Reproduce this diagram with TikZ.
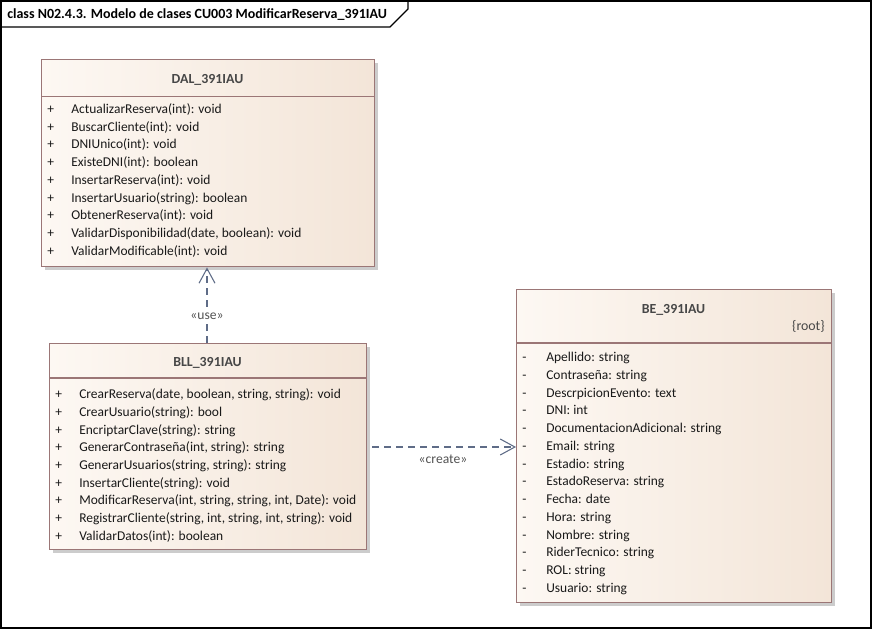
\documentclass[tikz,border=0pt]{standalone}
\usepackage{fontspec}
\setmainfont{Carlito}
\usetikzlibrary{arrows.meta}
\definecolor{bord}{RGB}{155,118,118}
\definecolor{fillL}{RGB}{253,248,243}
\definecolor{fillR}{RGB}{243,229,216}
\definecolor{conn}{RGB}{95,108,135}
\definecolor{txt}{RGB}{25,25,25}
\tikzset{
  umlbox/.style={draw=bord, line width=1.1pt, left color=fillL, right color=fillR, shading angle=90, inner sep=0pt},
  shadowbox/.style={fill=black!20, draw=none, inner sep=0pt},
  sepline/.style={draw=bord, line width=0.9pt},
  member/.style={anchor=base west, inner sep=0pt, font=\fontsize{10.1pt}{12pt}\selectfont, text=txt},
  cname/.style={anchor=base, inner sep=0pt, font=\bfseries\fontsize{10.4pt}{12pt}\selectfont, text=txt!80},
  conline/.style={draw=conn, line width=0.8pt, dash pattern=on 5.5pt off 3.5pt},
  openarrow/.style={-{Straight Barb[length=11pt, width=12pt, line width=0.8pt]}},
  clabel/.style={inner sep=0pt, font=\fontsize{10.2pt}{12pt}\selectfont, text=txt!75},
}
\begin{document}
\begin{tikzpicture}[x=0.75pt,y=-0.75pt]
\useasboundingbox (0,0) rectangle (873,630);
% frame
\draw[line width=0.8pt] (1,1) rectangle (871,628);
\draw[line width=0.8pt] (1,27) coordinate (tabA) -- (390,27) -- (408,9) -- (408,1);
\node[anchor=base west, inner sep=0pt, font=\bfseries\fontsize{10.5pt}{12pt}\selectfont] (title) at (7,19) {class N02.4.3. Modelo de clases CU003 ModificarReserva\_391IAU};

% ---------- DAL ----------
\fill[shadowbox] (45,63) rectangle (378,270);
\node[umlbox, minimum width=333*0.75pt, minimum height=207*0.75pt, anchor=north west] (dal) at (41,59) {};
\draw[sepline] (41,96.5) -- (374,96.5);
\node[cname] (daln) at (207.5,84) {DAL\_391IAU};
\foreach \y/\t [count=\i] in {
  114/ActualizarReserva(int): void,
  132/BuscarCliente(int): void,
  149/DNIUnico(int): void,
  167/ExisteDNI(int): boolean,
  185/InsertarReserva(int): void,
  203/InsertarUsuario(string): boolean,
  220/ObtenerReserva(int): void,
  238/{ValidarDisponibilidad(date, boolean): void},
  256/ValidarModificable(int): void}{
  \node[member] (dalp\i) at (47,\y) {+};
  \node[member] (dalm\i) at (71,\y) {\t};
}

% ---------- BLL ----------
\fill[shadowbox] (53,347) rectangle (370,553);
\node[umlbox, minimum width=317*0.75pt, minimum height=206*0.75pt, anchor=north west] (bll) at (49,343) {};
\draw[sepline] (49,378) -- (366,378);
\node[cname] (blln) at (207.5,367) {BLL\_391IAU};
\foreach \y/\t [count=\i] in {
  398/{CrearReserva(date, boolean, string, string): void},
  416/CrearUsuario(string): bool,
  434/EncriptarClave(string): string,
  451/{GenerarContraseña(int, string): string},
  469/{GenerarUsuarios(string, string): string},
  487/InsertarCliente(string): void,
  504/{ModificarReserva(int, string, string, int, Date): void},
  522/{RegistrarCliente(string, int, string, int, string): void},
  540/ValidarDatos(int): boolean}{
  \node[member] (bllp\i) at (55,\y) {+};
  \node[member] (bllm\i) at (79,\y) {\t};
}

% ---------- BE ----------
\fill[shadowbox] (520,293) rectangle (835,606);
\node[umlbox, minimum width=315*0.75pt, minimum height=313*0.75pt, anchor=north west] (be) at (516,289) {};
\draw[sepline] (516,343) -- (831,343);
\node[cname] (ben) at (673.5,314) {BE\_391IAU};
\node[anchor=base east, inner sep=0pt, font=\fontsize{10.4pt}{12pt}\selectfont, text=txt!80] (root) at (825,331) {\{root\}};
\foreach \y/\t [count=\i] in {
  361/Apellido: string,
  379/Contraseña: string,
  397/DescrpicionEvento: text,
  414/DNI: int,
  432/DocumentacionAdicional: string,
  450/Email: string,
  468/Estadio: string,
  485/EstadoReserva: string,
  503/Fecha: date,
  521/Hora: string,
  539/Nombre: string,
  556/RiderTecnico: string,
  574/ROL: string,
  592/Usuario: string}{
  \node[member] (bep\i) at (522,\y) {-};
  \node[member] (bem\i) at (546,\y) {\t};
}

% ---------- connectors ----------
\coordinate (useS) at (207,343);
\coordinate (useE) at (207,266);
\draw[conline, openarrow] (bll.north -| useS) -- (dal.south -| useE);
\node[clabel, fill=white, inner sep=1pt] (uselbl) at (207,316) {«use»};
\coordinate (crS) at (372,447);
\draw[conline, openarrow] (crS) -- (crS -| be.west);
\node[clabel] (crlbl) at (443,459) {«create»};
\end{tikzpicture}
\end{document}
